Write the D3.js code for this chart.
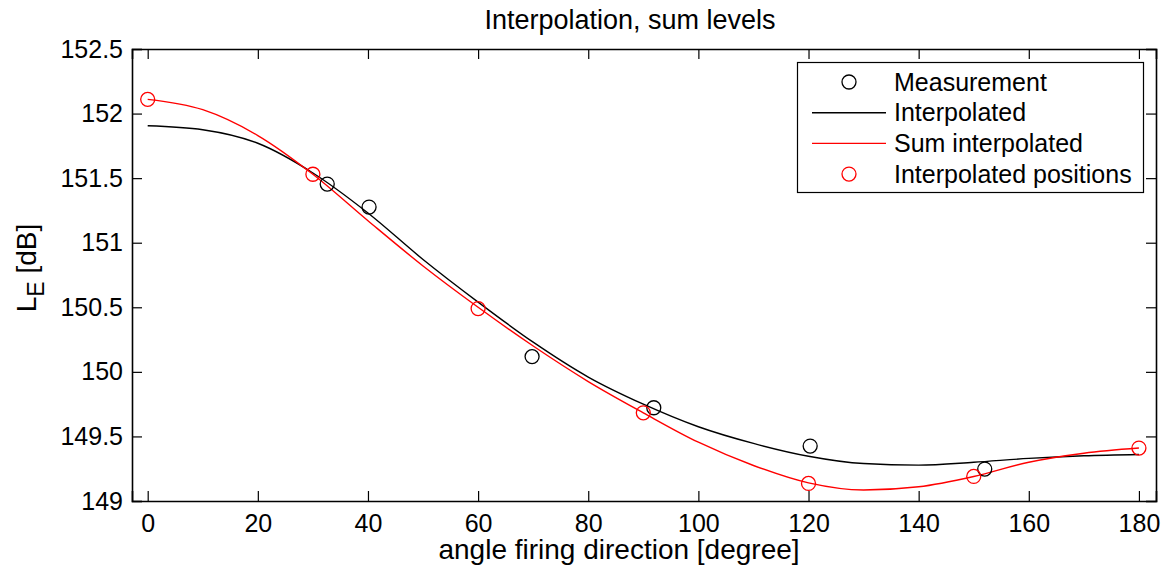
<!DOCTYPE html>
<html lang="en">
<head>
  <meta charset="UTF-8">
  <title>Interpolation, sum levels</title>
  <style>
    body { margin: 0; background: #fff; }
    svg { display: block; font-family: "Liberation Sans", Arial, sans-serif; }
  </style>
</head>
<body>
  <div id="chart"></div>

  <script src="https://d3js.org/d3.v7.min.js"></script>
  <script>

    // measured levels
    const measAngle = [32.6, 40.2, 69.8, 91.9, 120.3, 152.0];
    const measLevel = [151.454, 151.276, 150.118, 149.722, 149.425, 149.247];

    // interpolated curve (fit through measurements)
    const interpAngle = [0, 10, 20, 30, 40, 50, 60, 70, 80, 90, 100, 110, 120, 130, 140, 150, 160, 170, 180];
    const interpLevel = [151.906, 151.875, 151.77, 151.54, 151.23, 150.87, 150.54, 150.23, 149.96, 149.75, 149.575, 149.446, 149.347, 149.29, 149.278, 149.30, 149.33, 149.35, 149.36];

    // sum interpolated curve
    const sumAngle = [0, 10, 20, 30, 40, 50, 60, 70, 80, 90, 100, 110, 120, 130, 140, 150, 160, 170, 180];
    const sumLevel = [152.11, 152.03, 151.83, 151.53, 151.17, 150.82, 150.50, 150.20, 149.925, 149.683, 149.455, 149.275, 149.14, 149.085, 149.11, 149.19, 149.30, 149.37, 149.41];

    // interpolated positions
    const posAngle = [0, 30, 60, 90, 120, 150, 180];
    const posLevel = [152.11, 151.53, 150.49, 149.683, 149.136, 149.19, 149.41];

    const xTicks = [0, 20, 40, 60, 80, 100, 120, 140, 160, 180];
    const yTicks = [149, 149.5, 150, 150.5, 151, 151.5, 152, 152.5];

    const legendNames = ["Measurement", "Interpolated", "Sum interpolated", "Interpolated positions"];

    const width = 1168,
          height = 569,
          margin = {top: 49, right: 12, bottom: 68, left: 132};

    const svg = d3.select("#chart")
      .append("svg")
      .attr("width", width)
      .attr("height", height);

    const x = d3.scaleLinear([-2.85, 183.1], [margin.left, width - margin.right]);
    const y = d3.scaleLinear([149, 152.5], [height - margin.bottom, margin.top]);

    svg.append("defs").append("clipPath").attr("id", "plot")
      .append("rect")
      .attr("x", margin.left).attr("y", margin.top)
      .attr("width", width - margin.left - margin.right)
      .attr("height", height - margin.top - margin.bottom);

    const tick = 10;
    const fs = 25;

    // axes, ticks point inward on all four sides
    svg.append("g")
      .attr("transform", `translate(0,${height - margin.bottom})`)
      .call(d3.axisBottom(x).tickValues(xTicks).tickSize(-tick).tickPadding(13))
      .call(g => g.selectAll("text").attr("font-size", fs));
    svg.append("g")
      .attr("transform", `translate(0,${margin.top})`)
      .call(d3.axisTop(x).tickValues(xTicks).tickSize(-tick).tickFormat(""));
    svg.append("g")
      .attr("transform", `translate(${margin.left},0)`)
      .call(d3.axisLeft(y).tickValues(yTicks).tickSize(-tick).tickPadding(9).tickFormat(d3.format("")))
      .call(g => g.selectAll("text").attr("font-size", fs));
    svg.append("g")
      .attr("transform", `translate(${width - margin.right},0)`)
      .call(d3.axisRight(y).tickValues(yTicks).tickSize(-tick).tickFormat(""));

    svg.selectAll(".domain").attr("stroke-width", 1.6);
    svg.selectAll(".tick line").attr("stroke-width", 1.2);
    svg.selectAll(".tick text").attr("fill", "#000");

    const line = d3.line()
      .x(d => x(d[0]))
      .y(d => y(d[1]))
      .curve(d3.curveMonotoneX);

    const plot = svg.append("g").attr("clip-path", "url(#plot)");

    plot.append("path")
      .datum(d3.zip(interpAngle, interpLevel))
      .attr("fill", "none")
      .attr("stroke", "#000")
      .attr("stroke-width", 1.4)
      .attr("d", line);

    plot.append("path")
      .datum(d3.zip(sumAngle, sumLevel))
      .attr("fill", "none")
      .attr("stroke", "#ff0000")
      .attr("stroke-width", 1.4)
      .attr("d", line);

    plot.selectAll(".meas")
      .data(d3.zip(measAngle, measLevel))
      .join("circle")
      .attr("class", "meas")
      .attr("cx", d => x(d[0]))
      .attr("cy", d => y(d[1]))
      .attr("r", 7)
      .attr("fill", "none")
      .attr("stroke", "#000")
      .attr("stroke-width", 1.3);

    plot.selectAll(".pos")
      .data(d3.zip(posAngle, posLevel))
      .join("circle")
      .attr("class", "pos")
      .attr("cx", d => x(d[0]))
      .attr("cy", d => y(d[1]))
      .attr("r", 7)
      .attr("fill", "none")
      .attr("stroke", "#ff0000")
      .attr("stroke-width", 1.3);

    // title and axis labels
    svg.append("text")
      .attr("x", 630)
      .attr("y", 29)
      .attr("text-anchor", "middle")
      .attr("font-size", fs + 2)
      .text("Interpolation, sum levels");

    svg.append("text")
      .attr("x", 619)
      .attr("y", 559)
      .attr("text-anchor", "middle")
      .attr("font-size", fs + 3)
      .text("angle firing direction [degree]");

    const ylab = svg.append("text")
      .attr("transform", `translate(36,268) rotate(-90)`)
      .attr("text-anchor", "middle")
      .attr("font-size", fs + 3);
    ylab.append("tspan").text("L");
    ylab.append("tspan").attr("dy", 8).attr("font-size", fs - 2).text("E");
    ylab.append("tspan").attr("dy", -8).text(" [dB]");

    // legend
    const lg = svg.append("g");
    lg.append("rect")
      .attr("x", 797.5).attr("y", 62.5)
      .attr("width", 346).attr("height", 130)
      .attr("fill", "#fff")
      .attr("stroke", "#000")
      .attr("stroke-width", 1.2);

    const rowY = i => 82 + i * 30.7;
    const legendItems = lg.selectAll(".legend-item")
      .data(legendNames)
      .join("g")
      .attr("class", "legend-item");

    legendItems.filter((d, i) => i === 0 || i === 3)
      .append("circle")
      .attr("cx", 849)
      .attr("cy", (d) => rowY(legendNames.indexOf(d)))
      .attr("r", 7)
      .attr("fill", "none")
      .attr("stroke", d => d === legendNames[0] ? "#000" : "#ff0000")
      .attr("stroke-width", 1.3);

    legendItems.filter((d, i) => i === 1 || i === 2)
      .append("line")
      .attr("x1", 812).attr("x2", 886)
      .attr("y1", d => rowY(legendNames.indexOf(d)))
      .attr("y2", d => rowY(legendNames.indexOf(d)))
      .attr("stroke", d => d === legendNames[1] ? "#000" : "#ff0000")
      .attr("stroke-width", 1.4);

    legendItems.append("text")
      .attr("x", 894)
      .attr("y", (d, i) => rowY(i) + 8.5)
      .attr("font-size", fs)
      .text(d => d);

  </script>
</body>
</html>
